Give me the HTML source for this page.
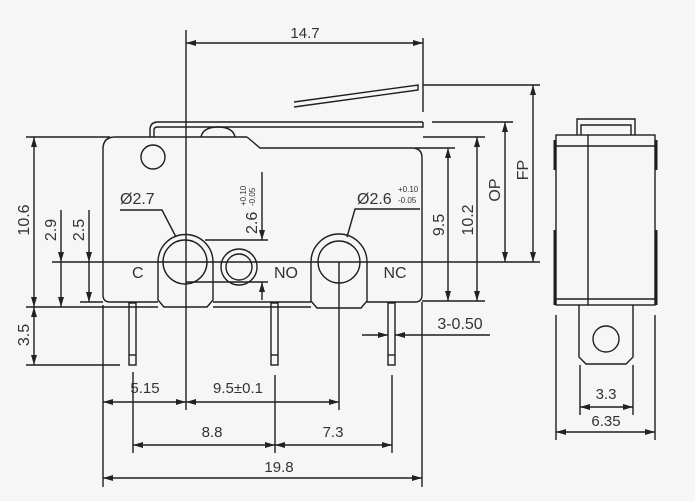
<!DOCTYPE html>
<html><head><meta charset="utf-8"><style>
html,body{margin:0;padding:0;background:#f6f6f6;}
svg{display:block}
text{font-family:"Liberation Sans",sans-serif;fill:#333;}
</style></head><body>
<svg width="695" height="501" viewBox="0 0 695 501" xmlns="http://www.w3.org/2000/svg">
<defs>
<marker id="a" viewBox="0 0 10 6" refX="10" refY="3" markerWidth="10" markerHeight="6" orient="auto-start-reverse" markerUnits="userSpaceOnUse"><path d="M0,0 L10,3 L0,6 z" fill="#222"/></marker>
</defs>
<g stroke="#1e1e1e" stroke-width="1.4" fill="none">
<path d="M423,122 L158,122 Q150,122 150,130 L150,137 M154,137 L154,130 Q154,127 158,127 L423,127 L423,122"/>
<path d="M294,102 L418,85 L418,90 L294,107"/>
<path d="M201,137 Q203,127 218,127 Q233,127 235,137"/>
<path d="M247,137 L115,137 Q103,137 103,149 L103,295 Q103,302 110,302 L158,302"/>
<path d="M247,137 L260,148 L412,148 Q422,148 422,158 L422,295 Q422,302 415,302 L367,302"/>
<path d="M213,302 L311,302"/>
<circle cx="153" cy="157" r="12"/>
<path d="M158,262 A27,27 0 0 1 213,262 L213,300 L207,307 L164,307 L158,300 Z"/>
<circle cx="185" cy="262" r="22"/>
<circle cx="239" cy="267" r="18"/><circle cx="239" cy="267" r="13"/>
<path d="M311,262 A28,28 0 0 1 367,262 L367,301 L361,308 L317,308 L311,301 Z"/>
<circle cx="339" cy="262" r="21"/>
<rect x="129" y="303" width="7" height="62"/><line x1="129" y1="355" x2="136" y2="355"/>
<rect x="271" y="303" width="7" height="62"/><line x1="271" y1="355" x2="278" y2="355"/>
<rect x="388" y="303" width="7" height="62"/><line x1="388" y1="355" x2="395" y2="355"/>
<line x1="186" y1="30" x2="186" y2="410"/>
<line x1="423" y1="38" x2="423" y2="112"/>
<line x1="52" y1="262" x2="540" y2="262"/>
<line x1="26" y1="307" x2="158" y2="307"/>
<line x1="213" y1="307" x2="311" y2="307"/>
<line x1="80" y1="302" x2="103" y2="302"/>
<line x1="26" y1="137" x2="110" y2="137"/>
<line x1="26" y1="365" x2="120" y2="365"/>
<line x1="205" y1="240" x2="268" y2="240"/>
<line x1="186" y1="282" x2="268" y2="282"/>
<line x1="423" y1="85" x2="540" y2="85"/>
<line x1="432" y1="122" x2="513" y2="122"/>
<line x1="423" y1="137" x2="485" y2="137"/>
<line x1="415" y1="148" x2="455" y2="148"/>
<line x1="422" y1="301" x2="485" y2="301"/>
<line x1="339" y1="262" x2="339" y2="410"/>
<line x1="103" y1="305" x2="103" y2="487"/>
<line x1="422" y1="302" x2="422" y2="487"/>
<line x1="133" y1="372" x2="133" y2="453"/>
<line x1="275" y1="375" x2="275" y2="453"/>
<line x1="392" y1="375" x2="392" y2="453"/>
<path d="M120,210 L162,210 L176,237"/>
<path d="M420,209 L355,209 L347,237"/>
<g marker-start="url(#a)" marker-end="url(#a)">
<line x1="186" y1="43" x2="423" y2="43"/>
<line x1="34" y1="137" x2="34" y2="307"/>
<line x1="34" y1="307" x2="34" y2="365"/>
<line x1="448" y1="148" x2="448" y2="301"/>
<line x1="477" y1="137" x2="477" y2="301"/>
<line x1="505" y1="122" x2="505" y2="262"/>
<line x1="533" y1="85" x2="533" y2="262"/>
<line x1="103" y1="402" x2="186" y2="402"/>
<line x1="186" y1="402" x2="339" y2="402"/>
<line x1="133" y1="445" x2="275" y2="445"/>
<line x1="275" y1="445" x2="392" y2="445"/>
<line x1="103" y1="478" x2="422" y2="478"/>
<line x1="580" y1="407" x2="633" y2="407"/>
<line x1="556" y1="432" x2="655" y2="432"/>
</g>
<g marker-end="url(#a)">
<line x1="61" y1="210" x2="61" y2="262"/><line x1="61" y1="270" x2="61" y2="307"/>
<line x1="89" y1="210" x2="89" y2="262"/><line x1="89" y1="270" x2="89" y2="302"/>
<line x1="262" y1="172" x2="262" y2="240"/><line x1="262" y1="300" x2="262" y2="282"/>
<line x1="362" y1="335" x2="388" y2="335"/><line x1="490" y1="335" x2="395" y2="335"/>
</g>
<line x1="61" y1="262" x2="61" y2="270"/><line x1="89" y1="262" x2="89" y2="270"/>
<rect x="556" y="135" width="99" height="170"/>
<line x1="588" y1="135" x2="588" y2="305"/>
<line x1="556" y1="146" x2="655" y2="146"/>
<line x1="556" y1="299" x2="655" y2="299"/>
<path d="M577,135 L577,119 L635,119 L635,135 M581,135 L581,125 L631,125 L631,135"/>
<path d="M579,305 L579,357 L586,364 L626,364 L633,357 L633,305"/>
<circle cx="606" cy="339" r="13"/>
<line x1="556" y1="315" x2="556" y2="440"/><line x1="655" y1="315" x2="655" y2="440"/>
<line x1="580" y1="365" x2="580" y2="415"/><line x1="633" y1="365" x2="633" y2="415"/>
</g>
<g stroke="#1e1e1e" stroke-width="3">
<line x1="555" y1="140" x2="555" y2="170"/><line x1="555" y1="230" x2="555" y2="305"/>
<line x1="656" y1="140" x2="656" y2="170"/><line x1="656" y1="230" x2="656" y2="305"/>
</g>
<g style="font-size:15px">
<text x="305" y="38" text-anchor="middle">14.7</text>
<text x="145" y="393" text-anchor="middle">5.15</text>
<text x="238" y="393" text-anchor="middle">9.5±0.1</text>
<text x="212" y="437" text-anchor="middle">8.8</text>
<text x="333" y="437" text-anchor="middle">7.3</text>
<text x="279" y="472" text-anchor="middle">19.8</text>
<text x="606" y="399" text-anchor="middle">3.3</text>
<text x="606" y="426" text-anchor="middle">6.35</text>
</g>
<g style="font-size:16px">
<text x="120" y="204">Ø2.7</text>
<text x="357" y="204">Ø2.6</text>
<text x="132" y="278">C</text>
<text x="286" y="278" text-anchor="middle">NO</text>
<text x="395" y="278" text-anchor="middle">NC</text>
<text x="460" y="329" text-anchor="middle">3-0.50</text>
<text transform="translate(29,220) rotate(-90)" text-anchor="middle">10.6</text>
<text transform="translate(56,230) rotate(-90)" text-anchor="middle">2.9</text>
<text transform="translate(84,230) rotate(-90)" text-anchor="middle">2.5</text>
<text transform="translate(29,335) rotate(-90)" text-anchor="middle">3.5</text>
<text transform="translate(444,225) rotate(-90)" text-anchor="middle">9.5</text>
<text transform="translate(473,220) rotate(-90)" text-anchor="middle">10.2</text>
<text transform="translate(500,190) rotate(-90)" text-anchor="middle">OP</text>
<text transform="translate(528,170) rotate(-90)" text-anchor="middle">FP</text>
<text transform="translate(257,234) rotate(-90)">2.6</text>
</g>
<g style="font-size:8px">
<text x="398" y="192">+0.10</text>
<text x="398" y="203">-0.05</text>
<text transform="translate(246,206) rotate(-90)">+0.10</text>
<text transform="translate(255,206) rotate(-90)">-0.05</text>
</g>
</svg>
</body></html>
